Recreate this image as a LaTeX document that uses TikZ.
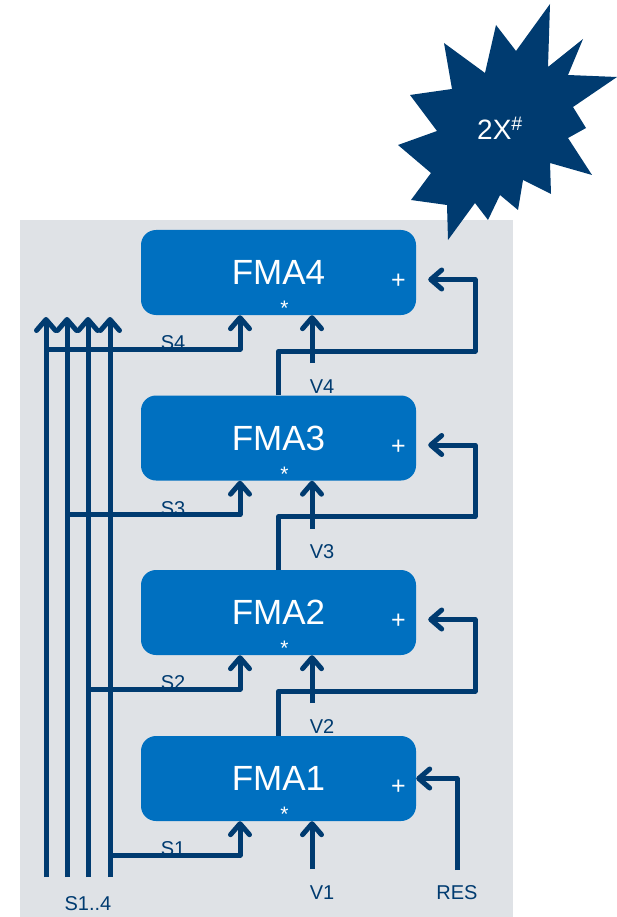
\documentclass[tikz,border=0pt]{standalone}
\usepackage{fontspec}
\setmainfont{Liberation Sans}
\usetikzlibrary{positioning, arrows.meta, calc}
\definecolor{navy}{RGB}{0,59,112}
\definecolor{fmaBlue}{RGB}{0,112,192}
\definecolor{panelGrey}{RGB}{223,226,230}

\begin{document}
\begin{tikzpicture}[
  x=1pt, y=-1pt,
  >={Straight Barb[length=11pt, width=19pt, round]},
  wire/.style={line width=5pt, draw=navy, line join=round},
  feed/.style={wire, ->},
  fma/.style={fill=fmaBlue, rounded corners=15pt, minimum width=275pt,
              minimum height=85pt, text=white, font=\fontsize{35}{40}\selectfont},
  opsign/.style={text=white, inner sep=0pt, font=\fontsize{25}{27}\selectfont},
  sig/.style={text=navy, inner sep=0pt, font=\fontsize{20}{22}\selectfont},
]
\useasboundingbox (0,0) rectangle (617,917);

% ── panel ────────────────────────────────────────────────────────────────────
\fill[panelGrey] (20,220) rectangle (513,917);

% ── FMA chain ────────────────────────────────────────────────────────────────
\foreach \n/\y in {4/272.5, 3/438, 2/612.5, 1/778.5}{
  \node[fma] (fma\n) at (278.5,\y) {FMA\n};
  \node[opsign] (plus\n) at ($(fma\n.center)+(120,9)$) {+};
  \node[opsign, font=\fontsize{21}{23}\selectfont] (mul\n) at ($(fma\n.center)+(6,36)$) {*};
}

% S labels sit under the wires
\foreach \n in {1,...,4}{
  \node[sig, anchor=south] (slab\n) at ($(fma\n.south)+(-105.5,35)$) {S\n};
}

% bus S1..4 (x = 46, 67, 88, 110)
\foreach \i/\x in {4/46, 3/67, 2/88, 1/110}{
  \coordinate (bus\i-bot) at (\x,877);
  \coordinate (bus\i-top) at (\x,317);
  \draw[feed] (bus\i-bot) -- (bus\i-top);
  \coordinate (s\i) at ($(bus\i-top |- fma\i.south)+(0,34)$);
  \coordinate (s\i-in) at ($(fma\i.south)+(-38.5,0)$);
  \draw[feed] (s\i) -| (s\i-in);
}
\node[sig] (slab) at (88,904) {S1..4};

% V inputs
\foreach \n in {1,...,4}{
  \coordinate (v\n) at ($(fma\n.south)+(33.5,48)$);
  \draw[feed] (v\n) -- (v\n |- fma\n.south);
  \node[sig] (vlab\n) at ($(fma\n.south)+(43.5,71)$) {V\n};
}

% accumulate: output of one stage feeds the + of the next
\foreach \n/\m in {1/2, 2/3, 3/4}{
  \coordinate (fb\m) at ($(475,0 |- fma\m.south)+(0,36)$);
  \coordinate (acc\m) at ($(fma\m.east)+(12,7)$);
  \draw[feed] (fma\n.north) |- (fb\m) |- (acc\m);
}

% RES into the first stage
\coordinate (res) at (457,870);
\draw[feed] (res) |- (fma1.east);
\node[sig] (reslab) at (457,893) {RES};

% ── burst ────────────────────────────────────────────────────────────────────
\fill[navy] (496,25) -- (516,51) -- (550,4) -- (548,67) -- (583,39) -- (568,75)
  -- (617,77) -- (573,107) -- (586,128) -- (568,138) -- (592,175) -- (550,163)
  -- (551,194) -- (523,180) -- (518,210) -- (500,195) -- (488,220) -- (475,203)
  -- (448,240) -- (447,205) -- (411,200) -- (431,173) -- (398,145) -- (437,131)
  -- (410,95) -- (452,89) -- (444,43) -- (485,73) -- cycle;
\node[text=white, font=\fontsize{28}{30}\selectfont] (burst) at (500,128)
  {2X\textsuperscript{\#}};

\end{tikzpicture}
\end{document}
